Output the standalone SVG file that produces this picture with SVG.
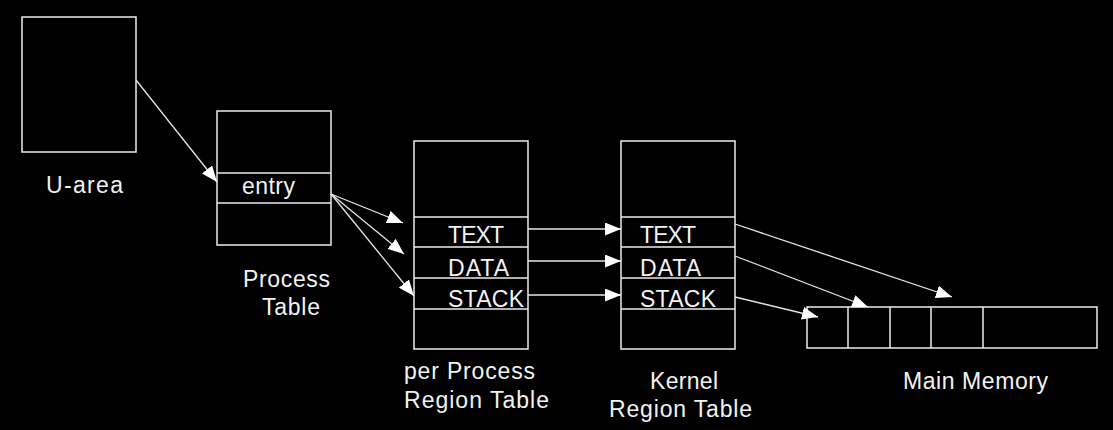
<svg xmlns="http://www.w3.org/2000/svg" width="1113" height="430" viewBox="0 0 1113 430">
<style>
.box{fill:none;stroke:#ececec;stroke-width:1.5}
.ln{stroke:#ececec;stroke-width:1.5}
.con{stroke:#e6e6e6;stroke-width:1.3;fill:none}
text{font-family:"Liberation Sans",Arial,sans-serif;font-size:23px;fill:#f2f2f2}
</style>
<defs>
<marker id="ah" markerUnits="userSpaceOnUse" markerWidth="17" markerHeight="13" refX="16" refY="6.5" orient="auto">
<path d="M0,0 L16,6.5 L0,13 z" fill="#ffffff"/>
</marker>
</defs>
<rect width="1113" height="430" fill="#000"/>
<g id="uarea">
<rect class="box" x="22" y="17" width="114" height="135"/>
<text x="46" y="193" textLength="77" lengthAdjust="spacing">U-area</text>
</g>
<g id="process-table">
<rect class="box" x="217" y="111" width="114" height="134"/>
<line class="ln" x1="217" y1="173" x2="331" y2="173"/>
<line class="ln" x1="217" y1="203" x2="331" y2="203"/>
<text x="242" y="194" textLength="53" lengthAdjust="spacing">entry</text>
<text x="243" y="287" textLength="87" lengthAdjust="spacing">Process</text>
<text x="262" y="315" textLength="58" lengthAdjust="spacing">Table</text>
</g>
<g id="per-process-region-table">
<rect class="box" x="414" y="141" width="114" height="208"/>
<line class="ln" x1="414" y1="217" x2="528" y2="217"/>
<line class="ln" x1="414" y1="247" x2="528" y2="247"/>
<line class="ln" x1="414" y1="278" x2="528" y2="278"/>
<line class="ln" x1="414" y1="309" x2="528" y2="309"/>
<text x="448" y="243" textLength="56" lengthAdjust="spacing">TEXT</text>
<text x="448" y="276" textLength="61" lengthAdjust="spacing">DATA</text>
<text x="448" y="307" textLength="76" lengthAdjust="spacing">STACK</text>
<text x="404" y="379" textLength="131" lengthAdjust="spacing">per Process</text>
<text x="404" y="408" textLength="145" lengthAdjust="spacing">Region Table</text>
</g>
<g id="kernel-region-table">
<rect class="box" x="621" y="141" width="114" height="208"/>
<line class="ln" x1="621" y1="217" x2="735" y2="217"/>
<line class="ln" x1="621" y1="247" x2="735" y2="247"/>
<line class="ln" x1="621" y1="278" x2="735" y2="278"/>
<line class="ln" x1="621" y1="309" x2="735" y2="309"/>
<text x="640" y="243" textLength="56" lengthAdjust="spacing">TEXT</text>
<text x="640" y="276" textLength="61" lengthAdjust="spacing">DATA</text>
<text x="640" y="307" textLength="76" lengthAdjust="spacing">STACK</text>
<text x="650" y="389" textLength="68" lengthAdjust="spacing">Kernel</text>
<text x="609" y="417" textLength="143" lengthAdjust="spacing">Region Table</text>
</g>
<g id="main-memory">
<rect class="box" x="807" y="307" width="290" height="41"/>
<line class="ln" x1="848" y1="307" x2="848" y2="348"/>
<line class="ln" x1="890" y1="307" x2="890" y2="348"/>
<line class="ln" x1="931" y1="307" x2="931" y2="348"/>
<line class="ln" x1="983" y1="307" x2="983" y2="348"/>
<text x="903" y="389" textLength="145" lengthAdjust="spacing">Main Memory</text>
</g>
<g id="connectors">
<line class="con" x1="136" y1="80" x2="217" y2="182" marker-end="url(#ah)"/>
<line class="con" x1="331" y1="194" x2="403" y2="223" marker-end="url(#ah)"/>
<line class="con" x1="331" y1="194" x2="404" y2="254" marker-end="url(#ah)"/>
<line class="con" x1="331" y1="194" x2="414" y2="296" marker-end="url(#ah)"/>
<line class="con" x1="528" y1="229" x2="621" y2="229" marker-end="url(#ah)"/>
<line class="con" x1="528" y1="261" x2="621" y2="261" marker-end="url(#ah)"/>
<line class="con" x1="528" y1="295" x2="621" y2="295" marker-end="url(#ah)"/>
<line class="con" x1="735" y1="224" x2="952" y2="297" marker-end="url(#ah)"/>
<line class="con" x1="735" y1="256" x2="868" y2="307" marker-end="url(#ah)"/>
<line class="con" x1="735" y1="297" x2="818" y2="317" marker-end="url(#ah)"/>
</g>
</svg>
